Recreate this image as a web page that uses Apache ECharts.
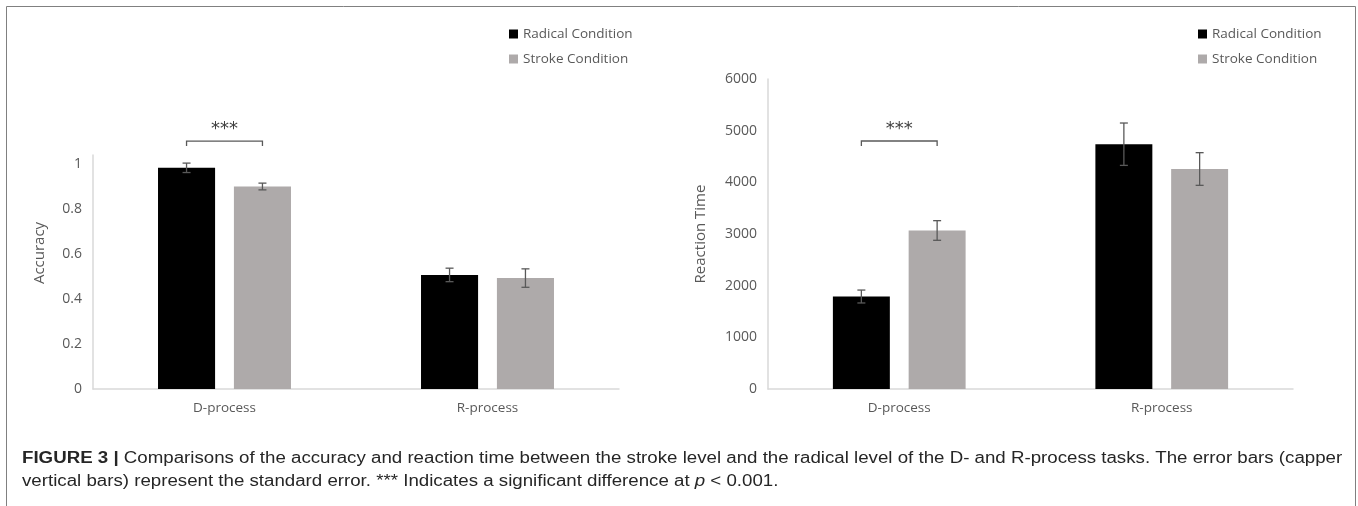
<!DOCTYPE html>
<html>
<head>
<meta charset="utf-8">
<script src="https://cdn.jsdelivr.net/npm/echarts@6/dist/echarts.min.js"></script>
<style>
  html, body { margin: 0; padding: 0; background: #fff; }
  #chart { width: 1358px; height: 506px; }
</style>
</head>
<body>
<div id="chart"></div>
<script>
// data
const categories = ['D-process', 'R-process']
const seriesNames = ['Radical Condition', 'Stroke Condition']

const accRadical = [0.983, 0.507]
const accRadicalErr = [0.021, 0.03]
const accStroke = [0.9, 0.493]
const accStrokeErr = [0.015, 0.041]

const rtRadical = [1790, 4738]
const rtRadicalErr = [125, 410]
const rtStroke = [3068, 4258]
const rtStrokeErr = [190, 316]

// significance brackets: [category index, height in axis units]
const accSig = [[0, 1.102]]
const rtSig = [[0, 4800]]

const BAR_W = 0.217
const BAR_GAP = 0.33
const labelColor = '#595959'
const axisColor = '#d9d9d9'
const font = '"Open Sans", "Noto Sans", sans-serif'

function errData(vals, errs, side) {
  return vals.map((v, i) => [i, v, errs[i], side])
}

function barOffset(api) {
  const band = api.size([1, 0])[0]
  return band * BAR_W * (1 + BAR_GAP) / 2
}

function renderErr(params, api) {
  const cat = api.value(0)
  const val = api.value(1)
  const err = api.value(2)
  const side = api.value(3)
  const dx = side * barOffset(api)
  const top = api.coord([cat, val + err])
  const bot = api.coord([cat, val - err])
  const x = top[0] + dx
  const cap = 4
  const style = { stroke: '#595959', lineWidth: 1.3 }
  return {
    type: 'group',
    children: [
      { type: 'line', shape: { x1: x, y1: top[1], x2: x, y2: bot[1] }, style },
      { type: 'line', shape: { x1: x - cap, y1: top[1], x2: x + cap, y2: top[1] }, style },
      { type: 'line', shape: { x1: x - cap, y1: bot[1], x2: x + cap, y2: bot[1] }, style }
    ]
  }
}

function renderSig(params, api) {
  const p = api.coord([api.value(0), api.value(1)])
  const off = barOffset(api)
  const x1 = p[0] - off
  const x2 = p[0] + off
  const y = p[1]
  return {
    type: 'group',
    children: [
      {
        type: 'polyline',
        shape: { points: [[x1, y + 5], [x1, y], [x2, y], [x2, y + 5]] },
        style: { stroke: '#595959', lineWidth: 1.3, fill: null }
      },
      {
        type: 'text',
        style: {
          x: p[0], y: y - 12, text: '***',
          textAlign: 'center', textVerticalAlign: 'middle',
          font: '18px "DejaVu Sans", sans-serif', fill: '#404040'
        }
      }
    ]
  }
}

function catAxis(gridIndex) {
  return {
    type: 'category',
    gridIndex,
    data: categories,
    axisLine: { lineStyle: { color: axisColor, width: 1.5 } },
    axisTick: { show: false },
    axisLabel: { color: labelColor, fontFamily: font, fontSize: 13.5, margin: 12 }
  }
}

function valAxis(gridIndex, opts) {
  return Object.assign({
    type: 'value',
    gridIndex,
    min: 0,
    nameLocation: 'middle',
    axisLine: { show: true, lineStyle: { color: axisColor, width: 1.5 } },
    axisTick: { show: false },
    splitLine: { show: false },
    axisLabel: {
      color: labelColor, fontFamily: font, fontSize: 14, margin: 11,
      formatter: (v) => String(v)
    }
  }, opts)
}

function legend(left) {
  return {
    data: seriesNames,
    left,
    top: 22,
    orient: 'vertical',
    icon: 'rect',
    itemWidth: 9,
    itemHeight: 9,
    itemGap: 11,
    textStyle: { color: labelColor, fontFamily: font, fontSize: 13.5 }
  }
}

function bar(name, data, color, idx) {
  return {
    name,
    type: 'bar',
    xAxisIndex: idx,
    yAxisIndex: idx,
    data,
    barWidth: (BAR_W * 100) + '%',
    barGap: (BAR_GAP * 100) + '%',
    itemStyle: { color }
  }
}

const chart = echarts.init(document.getElementById('chart'))

chart.setOption({
  animation: false,
  grid: [
    { left: 93, width: 526, top: 155, bottom: 117 },
    { left: 768, width: 525, top: 79, bottom: 117 }
  ],
  legend: [legend(504), legend(1193)],
  xAxis: [catAxis(0), catAxis(1)],
  yAxis: [
    valAxis(0, {
      max: 1.04,
      interval: 0.2,
      name: 'Accuracy',
      nameGap: 46,
      nameTextStyle: { color: labelColor, fontFamily: font, fontSize: 15, padding: [0, 0, 0, 38] },
      axisLabel: {
        color: labelColor, fontFamily: font, fontSize: 14, margin: 11, showMaxLabel: false,
        formatter: (v) => String(v)
      }
    }),
    valAxis(1, {
      max: 6000,
      interval: 1000,
      name: 'Reaction Time',
      nameGap: 60,
      nameTextStyle: { color: labelColor, fontFamily: font, fontSize: 15 }
    })
  ],
  graphic: [
    {
      type: 'rect',
      shape: { x: 6.5, y: 6.5, width: 1349, height: 510 },
      style: { fill: null, stroke: '#808080', lineWidth: 1 },
      silent: true
    },
    {
      type: 'text',
      x: 22,
      y: 447,
      scaleX: 1.168,
      style: {
        text: '{b|FIGURE 3 |} Comparisons of the accuracy and reaction time between the stroke level and the radical level of the D- and R-process tasks. The error bars (capper\nvertical bars) represent the standard error. *** Indicates a significant difference at {i|p} < 0.001.',
        font: '16px "Liberation Sans", Arial, sans-serif',
        fill: '#262626',
        lineHeight: 23,
        rich: {
          b: { fontWeight: 'bold', fontSize: 16, fontFamily: '"Liberation Sans", Arial, sans-serif', fill: '#262626' },
          i: { fontStyle: 'italic', fontSize: 16, fontFamily: '"Liberation Sans", Arial, sans-serif', fill: '#262626' }
        }
      }
    }
  ],
  series: [
    bar(seriesNames[0], accRadical, '#000000', 0),
    bar(seriesNames[1], accStroke, '#aeaaaa', 0),
    bar(seriesNames[0], rtRadical, '#000000', 1),
    bar(seriesNames[1], rtStroke, '#aeaaaa', 1),
    {
      type: 'custom',
      xAxisIndex: 0,
      yAxisIndex: 0,
      renderItem: renderErr,
      encode: { x: 0, y: 1 },
      data: errData(accRadical, accRadicalErr, -1).concat(errData(accStroke, accStrokeErr, 1)),
      z: 5
    },
    {
      type: 'custom',
      xAxisIndex: 1,
      yAxisIndex: 1,
      renderItem: renderErr,
      encode: { x: 0, y: 1 },
      data: errData(rtRadical, rtRadicalErr, -1).concat(errData(rtStroke, rtStrokeErr, 1)),
      z: 5
    },
    {
      type: 'custom',
      xAxisIndex: 0,
      yAxisIndex: 0,
      renderItem: renderSig,
      encode: { x: 0, y: 1 },
      data: accSig,
      clip: false
    },
    {
      type: 'custom',
      xAxisIndex: 1,
      yAxisIndex: 1,
      renderItem: renderSig,
      encode: { x: 0, y: 1 },
      data: rtSig,
      clip: false
    }
  ]
})
</script>
</body>
</html>
